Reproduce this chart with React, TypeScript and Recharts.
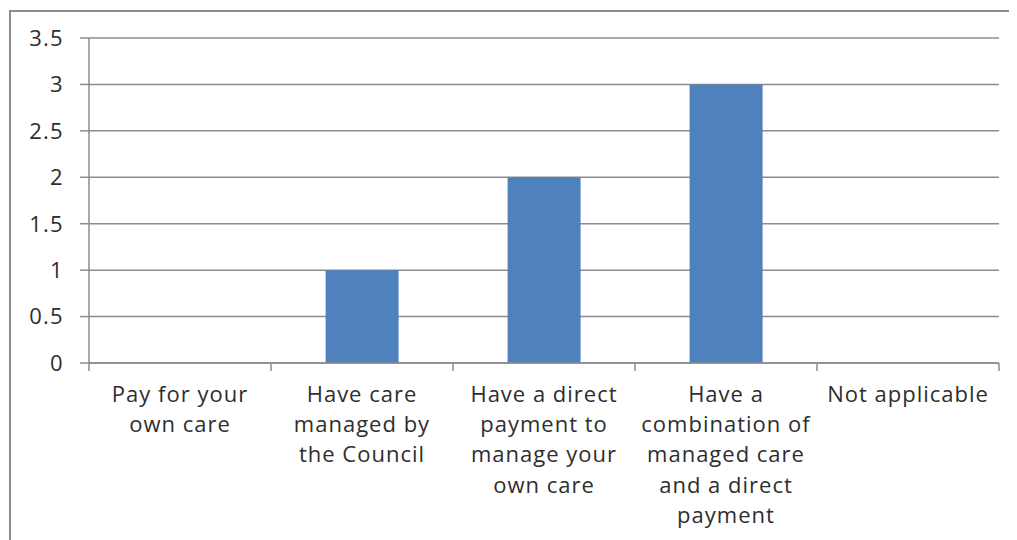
import React from "react";
import { BarChart, Bar, XAxis, YAxis, CartesianGrid } from "recharts";

const categories = [
  "Pay for your\nown care",
  "Have care\nmanaged by\nthe Council",
  "Have a direct\npayment to\nmanage your\nown care",
  "Have a\ncombination of\nmanaged care\nand a direct\npayment",
  "Not applicable",
];
const counts = [0, 1, 2, 3, 0];
const yTicks = [0, 0.5, 1, 1.5, 2, 2.5, 3, 3.5];

const data = categories.map((name, i) => ({ name, value: counts[i] }));

const AXIS = "#8c8c8c";
const TEXT = "#2e2e2e";
const FONT = "'Open Sans', sans-serif";

const CategoryTick = (props: any) => {
  const { x, y, payload, index } = props;
  const half = payload.offset || 91;
  const lines: string[] = String(payload.value).split("\n");
  return (
    <g>
      <line x1={x - half} y1={y - 8} x2={x - half} y2={y} stroke={AXIS} strokeWidth={1.5} />
      {index === categories.length - 1 && (
        <line x1={x + half} y1={y - 8} x2={x + half} y2={y} stroke={AXIS} strokeWidth={1.5} />
      )}
      <text
        x={x}
        y={y + 31}
        textAnchor="middle"
        fill={TEXT}
        fontSize={22}
        letterSpacing={1}
        fontFamily={FONT}
      >
        {lines.map((l, i) => (
          <tspan key={i} x={x} dy={i === 0 ? 0 : 30.2}>
            {l}
          </tspan>
        ))}
      </text>
    </g>
  );
};

export default function App() {
  return (
    <div
      style={{
        marginLeft: 1,
        marginTop: 2,
        width: 1008,
        height: 530,
        borderTop: `2px solid ${AXIS}`,
        borderLeft: `2px solid ${AXIS}`,
        overflow: "hidden",
        background: "#fff",
      }}
    >
      <BarChart
        width={1006}
        height={528}
        data={data}
        margin={{ top: 26, right: 18, bottom: 0, left: 0 }}
        barCategoryGap="30%"
      >
        <CartesianGrid vertical={false} stroke={AXIS} strokeWidth={1.5} />
        <XAxis
          dataKey="name"
          interval={0}
          height={177}
          stroke={AXIS}
          strokeWidth={1.5}
          tickLine={false}
          tick={<CategoryTick />}
        />
        <YAxis
          width={78}
          domain={[0, 3.5]}
          ticks={yTicks}
          interval={0}
          stroke={AXIS}
          strokeWidth={1.5}
          tickSize={9}
          tickMargin={16}
          tick={{ fill: TEXT, fontSize: 22, letterSpacing: 1.3, fontFamily: FONT }}
        />
        <Bar dataKey="value" fill="#4f81bd" isAnimationActive={false} />
      </BarChart>
    </div>
  );
}
